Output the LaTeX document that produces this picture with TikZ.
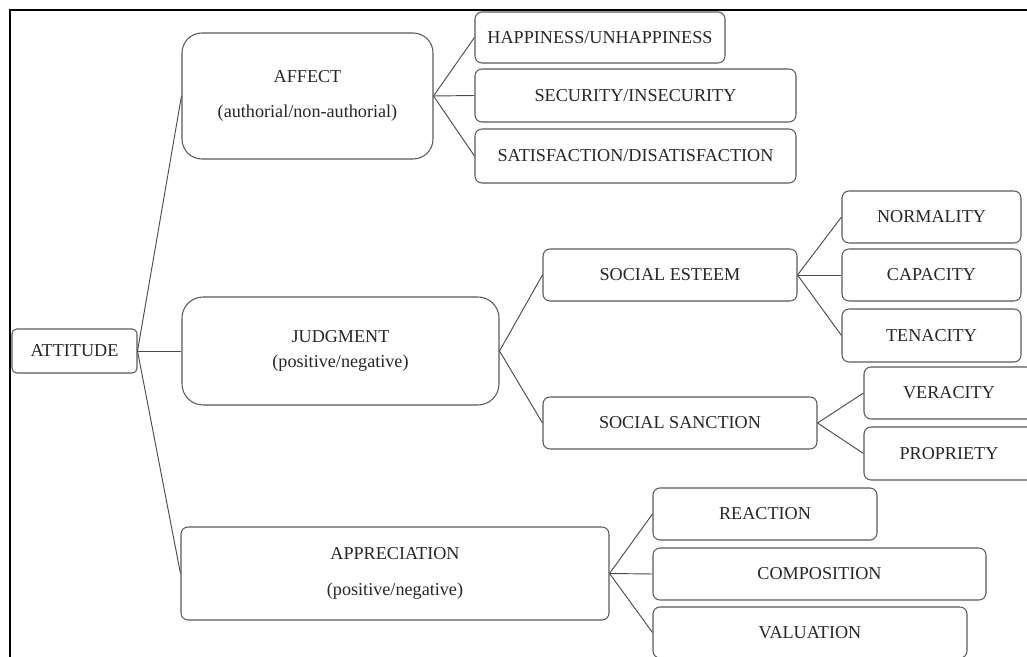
\documentclass[tikz,border=0pt]{standalone}
\usepackage{fontspec}
\setmainfont{Liberation Serif}
\begin{document}
\begin{tikzpicture}[x=0.03cm, y=-0.03cm,
    cell/.style 2 args={draw=black!65, line width=0.9pt, rounded corners=6pt,
        minimum width=#1*0.03cm, minimum height=#2*0.03cm, inner sep=0pt,
        align=center, text=black!85, font=\fontsize{15.5}{18.6}\selectfont},
    link/.style={draw=black!70, line width=0.8pt}]
    \useasboundingbox (0,0) rectangle (1027,657);
    \clip (0,0) rectangle (1027,657);

    % frame
    \draw[line width=1.3pt] (10,660)--(10,10)--(1030,10);

    % root and first level
    \node[cell={125}{44}, rounded corners=4pt] (attitude) at (74.5,351) {ATTITUDE};
    \node[cell={251}{126}, rounded corners=17pt] (affect) at (307.5,96) {AFFECT\\[11.4pt](authorial/non-authorial)};
    \node[cell={317}{108}, rounded corners=18pt] (judgment) at (340.5,351) {JUDGMENT\\[2.4pt](positive/negative)};
    \node[cell={428}{93}] (appreciation) at (395,573.5) {APPRECIATION\\[11.4pt](positive/negative)};

    % affect
    \node[cell={250}{51}] (happiness) at (600,37.5) {HAPPINESS/UNHAPPINESS};
    \node[cell={321}{53}] (security) at (635.5,95.5) {SECURITY/INSECURITY};
    \node[cell={321}{54}] (satisfaction) at (635.5,156) {SATISFACTION/DISATISFACTION};

    % judgment
    \node[cell={254}{52}] (esteem) at (670,275) {SOCIAL ESTEEM};
    \node[cell={274}{52}] (sanction) at (680,423) {SOCIAL SANCTION};
    \node[cell={179}{52}] (normality) at (931.5,217) {NORMALITY};
    \node[cell={179}{52}] (capacity) at (931.5,275) {CAPACITY};
    \node[cell={179}{53}] (tenacity) at (931.5,335.5) {TENACITY};
    \node[cell={170}{52}] (veracity) at (949,393) {VERACITY};
    \node[cell={170}{53}] (propriety) at (949,453.5) {PROPRIETY};

    % appreciation
    \node[cell={224}{52}] (reaction) at (765,514) {REACTION};
    \node[cell={333}{52}] (composition) at (819.5,574) {COMPOSITION};
    \node[cell={314}{51}] (valuation) at (810,632.5) {VALUATION};

    % connectors
    \foreach \b in {affect,judgment,appreciation}
        \draw[link] (attitude.east)--(\b.west);
    \foreach \b in {happiness,security,satisfaction}
        \draw[link] (affect.east)--(\b.west);
    \foreach \b in {esteem,sanction}
        \draw[link] (judgment.east)--(\b.west);
    \foreach \b in {normality,capacity,tenacity}
        \draw[link] (esteem.east)--(\b.west);
    \foreach \b in {veracity,propriety}
        \draw[link] (sanction.east)--(\b.west);
    \foreach \b in {reaction,composition,valuation}
        \draw[link] (appreciation.east)--(\b.west);
\end{tikzpicture}
\end{document}
